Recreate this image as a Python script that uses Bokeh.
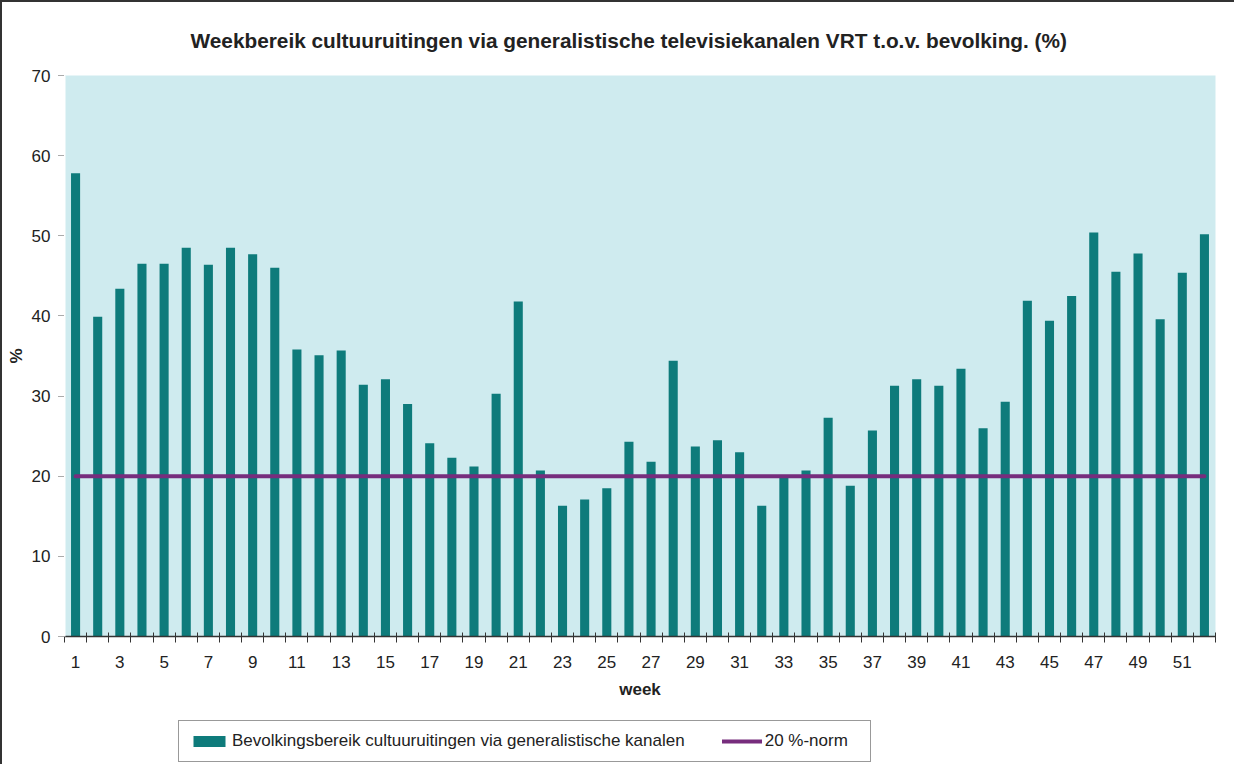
from bokeh.plotting import figure
from bokeh.layouts import column
from bokeh.models import (ColumnDataSource, FixedTicker, Range1d, Legend, LegendItem)
from bokeh.embed import file_html
from bokeh.resources import INLINE

# ---- data ----
weeks = list(range(1, 53))
reach = [57.8, 39.9, 43.4, 46.5, 46.5, 48.5, 46.4, 48.5, 47.7, 46.0,
         35.8, 35.1, 35.7, 31.4, 32.1, 29.0, 24.1, 22.3, 21.2, 30.3,
         41.8, 20.7, 16.3, 17.1, 18.5, 24.3, 21.8, 34.4, 23.7, 24.5,
         23.0, 16.3, 20.0, 20.7, 27.3, 18.8, 25.7, 31.3, 32.1, 31.3,
         33.4, 26.0, 29.3, 41.9, 39.4, 42.5, 50.4, 45.5, 47.8, 39.6,
         45.4, 50.2]
norm = [20, 20, 20, 20, 20, 20, 20, 20, 20, 20, 20, 20, 20, 20, 20, 20, 20, 20,
        20, 20, 20, 20, 20, 20, 20, 20, 20, 20, 20, 20, 20, 20, 20, 20, 20, 20,
        20, 20, 20, 20, 20, 20, 20, 20, 20, 20, 20, 20, 20, 20, 20, 20]
x_tick_labels = [1, 3, 5, 7, 9, 11, 13, 15, 17, 19, 21, 23, 25, 27, 29, 31, 33,
                 35, 37, 39, 41, 43, 45, 47, 49, 51]
y_ticks = [0, 10, 20, 30, 40, 50, 60, 70]

title_text = "Weekbereik cultuuruitingen via generalistische televisiekanalen VRT t.o.v. bevolking. (%)"
bar_label = "Bevolkingsbereik cultuuruitingen via generalistische kanalen"
line_label = "20 %-norm"

FONT = "Liberation Sans"
BAR = "#0E7B7B"
LINE = "#772D7D"
BG = "#CFEBEF"
TXT = "#222222"

src = ColumnDataSource(dict(week=weeks, reach=reach, norm=norm))

p = figure(width=1232, height=703, output_backend="svg", toolbar_location=None,
           x_range=Range1d(0.5, 52.5), y_range=Range1d(0, 70),
           min_border_left=62, min_border_right=19, min_border_top=73,
           min_border_bottom=69)
p.background_fill_color = BG
p.border_fill_color = "white"
p.outline_line_color = None
p.xgrid.grid_line_color = None
p.ygrid.grid_line_color = None

bars = p.vbar(x="week", top="reach", width=0.41, source=src,
              fill_color=BAR, line_color=None)
ln = p.line(x="week", y="norm", source=src, line_color=LINE, line_width=4,
            line_cap="round")

# title
p.title.text = title_text
p.title.text_font = FONT
p.title.text_font_size = "20.8px"
p.title.text_font_style = "bold"
p.title.text_color = TXT
p.title.align = "left"
p.title.offset = 126
p.title.standoff = 47

# x axis
xa = p.xaxis[0]
xa.ticker = FixedTicker(ticks=x_tick_labels,
                        minor_ticks=[w - 0.5 for w in weeks] + [52.5])
xa.major_tick_out = 6
xa.major_tick_in = 0
xa.major_tick_line_color = None
xa.minor_tick_out = 6
xa.minor_tick_in = 4
xa.minor_tick_line_color = "#333333"
xa.axis_line_color = "#333333"
xa.axis_line_width = 1.3
xa.major_label_standoff = 13
xa.major_label_text_font = FONT
xa.major_label_text_font_size = "17px"
xa.major_label_text_color = TXT
xa.axis_label = "week"
xa.axis_label_text_font = FONT
xa.axis_label_text_font_size = "17px"
xa.axis_label_text_font_style = "bold"
xa.axis_label_text_color = TXT
xa.axis_label_standoff = 9

# y axis
ya = p.yaxis[0]
ya.ticker = FixedTicker(ticks=y_ticks, minor_ticks=[])
ya.major_tick_out = 6
ya.major_tick_in = 0
ya.major_tick_line_color = "#555555"
ya.major_tick_line_dash = "1 1"
ya.minor_tick_line_color = None
ya.axis_line_color = "white"
ya.axis_line_width = 2
ya.major_label_standoff = 8
ya.major_label_text_font = FONT
ya.major_label_text_font_size = "17px"
ya.major_label_text_color = TXT
ya.axis_label = "%"
ya.axis_label_text_font = FONT
ya.axis_label_text_font_size = "17px"
ya.axis_label_text_font_style = "bold"
ya.axis_label_text_color = TXT
ya.axis_label_standoff = 3

# ---- legend strip (separate figure below the chart) ----
# proxy renderers share the data but lie outside this strip's ranges,
# so only their legend glyphs are drawn
lg = figure(width=1232, height=59, output_backend="svg", toolbar_location=None,
            x_axis_type=None, y_axis_type=None,
            x_range=Range1d(1000, 1001), y_range=Range1d(1000, 1001),
            min_border_left=0, min_border_right=0, min_border_top=0,
            min_border_bottom=0)
lg.outline_line_color = None
lg.background_fill_color = "white"
lg.border_fill_color = "white"
lg.xgrid.grid_line_color = None
lg.ygrid.grid_line_color = None
pbars = lg.vbar(x="week", top="reach", width=0.41, source=src,
                fill_color=BAR, line_color=None)
pline = lg.line(x="week", y="norm", source=src, line_color=LINE,
                line_width=4, line_cap="round")

legend = Legend(items=[LegendItem(label=bar_label, renderers=[pbars]),
                       LegendItem(label=line_label, renderers=[pline])],
                orientation="horizontal", location=(114, 2),
                border_line_color="#333333", border_line_width=1,
                background_fill_color="white", background_fill_alpha=1,
                label_text_font=FONT, label_text_font_size="17px",
                label_text_color=TXT, glyph_width=40, glyph_height=14,
                label_standoff=3, label_width=95, spacing=37, padding=10,
                margin=0)
lg.add_layout(legend)

layout = column(p, lg, spacing=0,
                styles={"border-left": "2px solid #333333",
                        "border-top": "2px solid #333333"})

open("out.html", "w").write(file_html(layout, INLINE))
